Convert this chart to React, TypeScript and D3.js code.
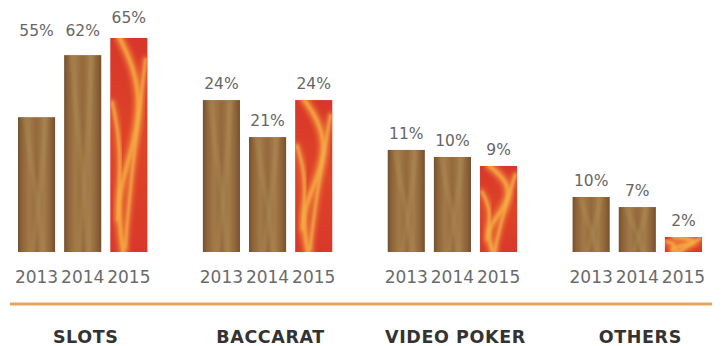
import React from "react";
import * as d3 from "d3";

// ---- data ----
const categories = ["SLOTS", "BACCARAT", "VIDEO POKER", "OTHERS"];
const years = ["2013", "2014", "2015"];
// printed percentages
const share2013 = [55, 24, 11, 10];
const share2014 = [62, 21, 10, 7];
const share2015 = [65, 24, 9, 2];
// bar lengths as drawn in the infographic (index, tallest bar = 100)
const drawn2013 = [63, 71, 47.7, 25.7];
const drawn2014 = [92, 53.7, 44.4, 21];
const drawn2015 = [100, 71, 40.2, 7];

const W = 728;
const H = 346;
const BASE = 252;
const TOP = 38;

// decorative texture strokes (fractions of bar width / height)
const woodStreaks: [number, number][][] = [
  [[0.2, 0], [0.35, 0.35], [0.55, 0.65], [0.65, 1]],
  [[0.75, 0], [0.65, 0.4], [0.5, 0.75], [0.4, 1]],
];
const fireStreaks: [number, number][][] = [
  [[0.25, 0], [0.6, 0.12], [0.85, 0.32], [0.55, 0.55], [0.15, 0.75], [0.35, 1]],
  [[0.95, 0.1], [0.75, 0.38], [0.55, 0.68], [0.4, 0.98]],
  [[0.05, 0.3], [0.3, 0.5], [0.2, 0.85]],
];

export default function App() {
  const x0 = d3.scaleBand<string>().domain(categories).range([18, 702]).paddingInner(0.3).paddingOuter(0);
  const x1 = d3.scaleBand<string>().domain(years).range([0, x0.bandwidth()]).paddingInner(0.196).paddingOuter(0);
  const y = d3.scaleLinear().domain([0, 100]).range([BASE, TOP]);

  const shares = [share2013, share2014, share2015];
  const drawn = [drawn2013, drawn2014, drawn2015];

  const line = d3.line().curve(d3.curveBasis);

  const bars: any[] = [];
  categories.forEach((c, gi) => {
    const peak = Math.max(drawn[0][gi], drawn[1][gi], drawn[2][gi]);
    const peakLabelY = y(peak) - 12;
    years.forEach((yr, bi) => {
      const bx = (x0(c) as number) + (x1(yr) as number);
      const top = y(drawn[bi][gi]);
      let ly = top - 11;
      if (peak >= 95 && drawn[bi][gi] < peak) ly = peakLabelY + 10;
      if (drawn[bi][gi] === peak && peak >= 95) ly = peakLabelY - 3;
      bars.push({ c, gi, yr, bi, bx, top, ly, val: shares[bi][gi] });
    });
  });

  const bw = x1.bandwidth();

  return (
    <svg width={W} height={H} style={{ position: "absolute", left: 0, top: 0, background: "#fff" }}>
      <defs>
        <linearGradient id="wood" x1="0" x2="1" y1="0" y2="0">
          <stop offset="0" stopColor="#735030" />
          <stop offset="0.1" stopColor="#8d6238" />
          <stop offset="0.3" stopColor="#a27a48" />
          <stop offset="0.5" stopColor="#94693c" />
          <stop offset="0.7" stopColor="#a37c4a" />
          <stop offset="0.9" stopColor="#8c6138" />
          <stop offset="1" stopColor="#735030" />
        </linearGradient>
        <linearGradient id="fire" x1="0" x2="0" y1="0" y2="1">
          <stop offset="0" stopColor="#d8362a" />
          <stop offset="0.5" stopColor="#de4428" />
          <stop offset="1" stopColor="#d8382a" />
        </linearGradient>
        <filter id="blur" x="-20%" y="-20%" width="140%" height="140%">
          <feGaussianBlur stdDeviation="1.2" />
        </filter>
        <filter id="blur2" x="-30%" y="-30%" width="160%" height="160%">
          <feGaussianBlur stdDeviation="2" />
        </filter>
        {bars.map((b, i) => (
          <clipPath id={`clip${i}`} key={i}>
            <rect x={b.bx} y={b.top} width={bw} height={BASE - b.top} />
          </clipPath>
        ))}
      </defs>

      {bars.map((b, i) => {
        const h = BASE - b.top;
        const fire = b.bi === 2;
        const streaks = fire ? fireStreaks : woodStreaks;
        const pathOf = (s: [number, number][]) =>
          line(s.map(([fx, fy]) => [b.bx + fx * bw, b.top + fy * h] as [number, number])) || "";
        return (
          <g key={i}>
            <rect x={b.bx} y={b.top} width={bw} height={h} fill={fire ? "url(#fire)" : "url(#wood)"} />
            <g clipPath={`url(#clip${i})`}>
              {fire ? (
                <>
                  {streaks.map((s, si) => (
                    <path
                      key={"w" + si}
                      d={pathOf(s)}
                      fill="none"
                      stroke="#f0863a"
                      strokeWidth={si === 0 ? 10 : 7}
                      strokeOpacity={0.7}
                      strokeLinecap="round"
                      filter="url(#blur2)"
                    />
                  ))}
                  {streaks.map((s, si) => (
                    <path
                      key={"n" + si}
                      d={pathOf(s)}
                      fill="none"
                      stroke={si === 0 ? "#f6a83e" : "#f4b04a"}
                      strokeWidth={si === 0 ? 4 : 2.5}
                      strokeOpacity={0.85}
                      strokeLinecap="round"
                      filter="url(#blur)"
                    />
                  ))}
                </>
              ) : (
                <g filter="url(#blur)">
                  {streaks.map((s, si) => (
                    <path
                      key={si}
                      d={pathOf(s)}
                      fill="none"
                      stroke="#b3955e"
                      strokeWidth={5}
                      strokeOpacity={0.3}
                    />
                  ))}
                </g>
              )}
            </g>
            <text
              x={b.bx + bw / 2}
              y={b.ly}
              textAnchor="middle"
              fontFamily="DejaVu Sans"
              fontSize={15.5}
              fill="#666"
            >
              {b.val}%
            </text>
            <text
              x={b.bx + bw / 2}
              y={283}
              textAnchor="middle"
              fontFamily="DejaVu Sans"
              fontSize={17}
              fill="#6a6a6a"
            >
              {b.yr}
            </text>
          </g>
        );
      })}

      <line x1={10} x2={712} y1={304} y2={304} stroke="#e6a460" strokeWidth={3} />

      {categories.map((c) => (
        <text
          key={c}
          x={(x0(c) as number) + x0.bandwidth() / 2 + 3}
          y={343}
          textAnchor="middle"
          fontFamily="DejaVu Sans"
          fontWeight="bold"
          fontSize={17.5}
          letterSpacing={0.6}
          fill="#333"
        >
          {c}
        </text>
      ))}
    </svg>
  );
}
